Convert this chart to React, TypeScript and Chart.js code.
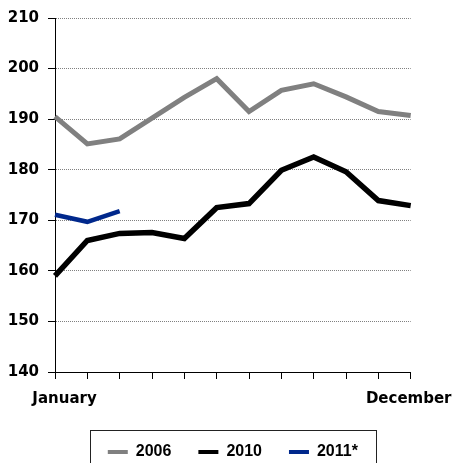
import React, { useEffect, useRef } from 'react';
import { Chart, registerables } from 'chart.js';

Chart.register(...registerables);

const months = ['January', 'February', 'March', 'April', 'May', 'June', 'July', 'August', 'September', 'October', 'November', 'December'];
const firstLabel = 'January';
const lastLabel = 'December';

const seriesNames = ['2006', '2010', '2011*'];
const seriesColors = ['#808080', '#000000', '#00288C'];
const seriesWidths = [5, 5.5, 4.5];

const values2006 = [190.5, 185.1, 186.1, 190.2, 194.3, 198.0, 191.5, 195.7, 197.0, 194.4, 191.5, 190.7];
const values2010 = [159.0, 166.0, 167.4, 167.6, 166.4, 172.5, 173.3, 179.9, 182.5, 179.6, 173.9, 172.9];
const values2011 = [171.1, 169.7, 171.8];

const yMin = 140;
const yMax = 210;
const yStep = 10;

const TICK_FONT = { family: "'DejaVu Sans', sans-serif", weight: 'bold' as const, size: 15 };
const LEGEND_FONT = { family: "'Liberation Sans', Arial, sans-serif", weight: 'bold' as const, size: 16 };
const X_LABEL_GAP = 11;
const TICK_LEN = 7;

const extrasPlugin = {
  id: 'extras',
  afterDraw(chart: any) {
    const ctx = chart.ctx;
    const xs = chart.scales.x;
    // category labels at the two ends of the axis
    ctx.save();
    ctx.font = `bold ${TICK_FONT.size}px ${TICK_FONT.family}`;
    ctx.fillStyle = '#000';
    ctx.textAlign = 'center';
    ctx.textBaseline = 'middle';
    const ly = xs.top + TICK_LEN + X_LABEL_GAP + (TICK_FONT.size * 1.2) / 2;
    ctx.fillText(firstLabel, xs.getPixelForTick(0) + 9.5, ly);
    ctx.fillText(lastLabel, xs.getPixelForTick(months.length - 1) - 2, ly);
    ctx.restore();

    // legend frame
    const lg = chart.legend;
    if (lg && lg.legendHitBoxes && lg.legendHitBoxes.length) {
      const hb = lg.legendHitBoxes;
      const first = hb[0];
      const last = hb[hb.length - 1];
      const left = Math.round(first.left - 18) + 0.5;
      const right = Math.round(last.left + last.width + 18) + 0.5;
      const top = Math.round(lg.top + 12.5) + 0.5;
      ctx.save();
      ctx.strokeStyle = '#222';
      ctx.lineWidth = 1;
      ctx.strokeRect(left, top, right - left, chart.height + 20 - top);
      ctx.restore();
    }
  },
};

export default function App() {
  const canvasRef = useRef<HTMLCanvasElement | null>(null);

  useEffect(() => {
    if (!canvasRef.current) return;
    const chart = new Chart(canvasRef.current, {
      type: 'line',
      data: {
        labels: months,
        datasets: [
          { label: seriesNames[0], data: values2006 },
          { label: seriesNames[1], data: values2010 },
          { label: seriesNames[2], data: values2011 },
        ].map((d, i) => ({
          ...d,
          borderColor: seriesColors[i],
          backgroundColor: seriesColors[i],
          borderWidth: seriesWidths[i],
          pointRadius: 0,
          pointHoverRadius: 0,
          tension: 0,
          fill: false,
          borderJoinStyle: 'miter' as const,
          borderCapStyle: 'butt' as const,
        })),
      },
      options: {
        animation: false,
        responsive: false,
        devicePixelRatio: 1,
        layout: { padding: { top: 16, left: 0, right: 43.3, bottom: -7 } },
        plugins: {
          tooltip: { enabled: false },
          legend: {
            display: true,
            position: 'bottom',
            fullSize: false,
            labels: {
              font: LEGEND_FONT,
              color: '#000',
              boxWidth: 20,
              boxHeight: 4,
              padding: 27,
              generateLabels: (c: any) =>
                c.data.datasets.map((ds: any, i: number) => ({
                  text: ds.label,
                  fillStyle: ds.borderColor,
                  strokeStyle: ds.borderColor,
                  lineWidth: 0,
                  hidden: false,
                  datasetIndex: i,
                  fontColor: '#000',
                })),
            },
          },
        },
        scales: {
          x: {
            type: 'category',
            offset: false,
            grid: {
              display: true,
              drawOnChartArea: false,
              drawTicks: true,
              tickLength: TICK_LEN,
              tickColor: '#000',
              tickWidth: 1,
            },
            border: { display: true, color: '#000', width: 1 },
            ticks: {
              display: false,
              autoSkip: false,
              maxRotation: 0,
              minRotation: 0,
            },
            afterFit: (s: any) => {
              s.height = 45;
            },
          },
          y: {
            min: yMin,
            max: yMax,
            grid: {
              display: true,
              color: '#808080',
              lineWidth: 1,
              drawTicks: true,
              tickLength: TICK_LEN,
              tickColor: '#000',
              tickWidth: 1,
            },
            border: { display: true, color: '#000', width: 1, dash: [1, 1] },
            ticks: {
              stepSize: yStep,
              padding: 9,
              font: TICK_FONT,
              color: '#000',
            },
            afterFit: (s: any) => {
              s.width = 55;
            },
          },
        },
      },
      plugins: [extrasPlugin],
    });
    return () => chart.destroy();
  }, []);

  return (
    <div style={{ position: 'absolute', left: 0, top: 0, width: 454, height: 463, background: '#fff' }}>
      <canvas ref={canvasRef} width={454} height={463} style={{ display: 'block' }} />
    </div>
  );
}
